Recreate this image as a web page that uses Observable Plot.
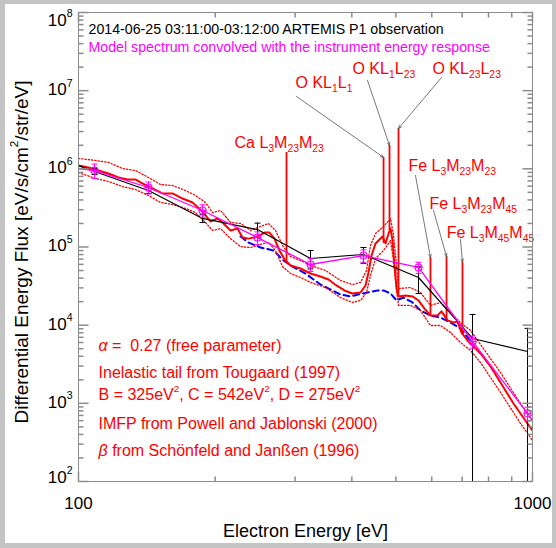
<!DOCTYPE html>
<html>
<head>
<meta charset="utf-8">
<script src="https://cdn.jsdelivr.net/npm/d3@7"></script>
<script src="https://cdn.jsdelivr.net/npm/@observablehq/plot@0.6"></script>
<style>
  html, body { margin: 0; padding: 0; }
  body { width: 556px; height: 548px; background: #c4c4c4; position: relative; overflow: hidden;
         font-family: "Liberation Sans", Arial, sans-serif; }
  #panel { position: absolute; left: 5px; top: 4px; width: 547px; height: 539px; background: #fff; }
  #chart { position: absolute; left: 0; top: 0; }
</style>
</head>
<body>
<div id="panel"></div>
<div id="chart"></div>
<script>
// Model electron spectrum (solid red), eV and eV/s/cm^2/str/eV
const modelE = [100, 105.2, 110.7, 116.4, 122.5, 128.2, 133.5, 136.9, 145.5, 153.1, 161.1, 169.5, 178.3, 188.5,
  195.3, 202.4, 208.6, 216.2, 224.0, 229.8, 236.9, 247.9, 256.8, 263.4, 270.2, 277.1, 284.3, 293.1, 308.3, 324.4,
  341.2, 355.3, 370.0, 385.3, 401.3, 418.0, 428.7, 435.3, 442.0, 451.1, 460.3, 467.4, 474.6, 481.9, 486.8, 491.7,
  496.7, 501.7, 506.8, 525.1, 544.1, 560.9, 578.2, 596.0, 617.6, 630.3, 649.7, 669.8, 683.5, 697.5, 719.1, 741.4,
  768.2, 808.2, 850.2, 908.2, 974.8, 1015];
const modelFlux = [1.10e6, 1.04e6, 9.52e5, 8.72e5, 7.75e5, 7.31e5, 7.31e5, 6.69e5, 5.60e5, 4.84e5, 4.84e5, 4.17e5,
  3.71e5, 2.76e5, 2.12e5, 2.32e5, 2.00e5, 1.63e5, 1.72e5, 1.32e5, 1.28e5, 1.36e5, 1.53e5, 1.53e5, 1.28e5, 9.02e4,
  6.92e4, 5.80e4, 5.31e4, 4.58e4, 4.19e4, 3.84e4, 3.22e4, 2.78e4, 2.54e4, 2.62e4, 3.22e4, 4.72e4, 7.78e4, 1.11e5,
  1.25e5, 1.36e5, 1.11e5, 1.49e5, 1.72e5, 1.21e5, 5.80e4, 3.03e4, 2.33e4, 2.40e4, 2.33e4, 2.07e4, 1.63e4, 1.33e4,
  1.33e4, 1.50e4, 1.15e4, 1.08e4, 1.11e4, 8.06e3, 6.37e3, 5.33e3, 4.34e3, 2.96e3, 1.85e3, 995, 552, 399];

// Uncertainty envelope of the model (dotted red)
const bandE = [100, 109.0, 116.4, 125.0, 133.5, 142.6, 151.6, 161.1, 172.1, 181.0, 190.4, 197.3, 205.5, 216.2,
  227.5, 239.3, 251.7, 262.1, 271.6, 281.4, 293.1, 308.3, 324.4, 350.0, 377.6, 401.3, 418.0, 430.9, 439.7, 451.1,
  469.8, 486.8, 494.2, 501.7, 506.8, 538.6, 566.6, 596.0, 627.1, 659.7, 694.0, 730.2, 768.2, 850.2, 941.0, 1015];
const bandUpper = [1.36e6, 1.28e6, 1.21e6, 1.01e6, 9.52e5, 7.75e5, 6.30e5, 6.12e5, 5.28e5, 4.56e5, 3.71e5, 2.76e5,
  2.93e5, 2.06e5, 2.00e5, 1.63e5, 1.83e5, 2.00e5, 1.63e5, 1.05e5, 7.56e4, 6.72e4, 5.80e4, 5.01e4, 3.73e4, 3.31e4,
  3.52e4, 5.01e4, 1.05e5, 1.49e5, 1.83e5, 2.32e5, 1.40e5, 5.80e4, 2.94e4, 3.03e4, 2.62e4, 1.79e4, 1.95e4, 1.45e4,
  1.08e4, 8.55e3, 5.66e3, 2.48e3, 995, 521];
const bandLower = [8.98e5, 7.52e5, 6.89e5, 5.94e5, 5.44e5, 4.56e5, 3.71e5, 3.50e5, 3.11e5, 2.76e5, 2.06e5, 1.63e5,
  1.72e5, 1.28e5, 1.01e5, 9.85e4, 1.08e5, 1.14e5, 9.02e4, 5.63e4, 4.58e4, 4.07e4, 3.52e4, 3.03e4, 2.26e4, 1.95e4,
  2.07e4, 2.62e4, 4.32e4, 7.13e4, 9.02e4, 1.21e5, 6.72e4, 2.78e4, 1.79e4, 1.79e4, 1.54e4, 9.90e3, 9.90e3, 8.06e3,
  6.00e3, 4.74e3, 3.33e3, 1.38e3, 552, 297];

// Inelastic background only (blue dashed)
const bgE = [227.5, 236.9, 251.7, 268.9, 282.9, 296.0, 316.2, 341.2, 377.6, 397.2, 422.2, 455.7, 469.8, 486.8,
  501.7, 519.8, 544.1, 566.6, 596.0, 627.1, 659.7, 694.0, 719.1, 741.4];
const bgFlux = [1.36e5, 1.14e5, 9.85e4, 9.02e4, 6.72e4, 5.63e4, 4.58e4, 3.31e4, 2.47e4, 2.33e4, 2.54e4, 2.78e4,
  2.78e4, 2.54e4, 2.07e4, 2.26e4, 1.95e4, 1.54e4, 1.33e4, 1.25e4, 1.08e4, 9.07e3, 6.96e3, 5.50e3];

// ESA energy channels: observation (black) and convolved model (magenta)
const channelE = [108.5, 142.6, 187.6, 247.9, 324.4, 424.3, 561.0, 737.7, 975.0];
const obsFlux = [9.25e5, 5.28e5, 2.32e5, 1.67e5, 7.13e4, 8.02e4, 4.07e4, 6.76e3, 4.60e3];
const obsErr = [8.0e4, 4.4e4, 2.6e4, 3.5e4, 1.89e4, 1.83e4, 1.53e4, 6.94e3, 4.5e3];
const obsLineE = [100, 108.5, 142.6, 187.6, 247.9, 324.4, 424.3, 561.0, 737.7, 975.0];
const obsLineFlux = [1.10e6, 9.25e5, 5.28e5, 2.32e5, 1.67e5, 7.13e4, 8.02e4, 4.07e4, 6.76e3, 4.60e3];
const convFlux = [9.50e5, 5.77e5, 2.93e5, 1.32e5, 5.97e4, 7.78e4, 5.47e4, 6.18e3, 742];
const convErr = [2.0e5, 1.0e5, 5.3e4, 2.4e4, 1.1e4, 1.4e4, 9.0e3, 1.1e3, 150];
const convLineE = [100, 108.5, 142.6, 187.6, 247.9, 324.4, 424.3, 561.0, 737.7, 975.0, 1000];
const convLineFlux = [1.01e6, 9.50e5, 5.77e5, 2.93e5, 1.32e5, 5.97e4, 7.78e4, 5.47e4, 6.18e3, 742, 604];

// Auger lines
const augerNames = ["Ca L_{3}M_{23}M_{23}", "O KL_{1}L_{1}", "O KL_{1}L_{23}", "O KL_{23}L_{23}",
  "Fe L_{3}M_{23}M_{23}", "Fe L_{3}M_{23}M_{45}", "Fe L_{3}M_{45}M_{45}"];
const augerE = [287.2, 469.8, 484.2, 506.8, 596.0, 646.6, 701.1];
const augerPeak = [1.62e6, 1.40e6, 1.99e6, 3.28e6, 7.34e4, 7.56e4, 6.43e4];
const augerBase = [6.33e4, 1.11e5, 1.63e5, 2.33e4, 1.33e4, 1.15e4, 7.39e3];

// Fit notes
const notes = ["~{α} = \u00a00.27 (free parameter)", "Inelastic tail from Tougaard (1997)",
  "B = 325eV^{2}, C = 542eV^{2}, D = 275eV^{2}", "IMFP from Powell and Jablonski (2000)",
  "~{β} from Schönfeld and Janßen (1996)"];

// Annotation placement (energy, flux) for the line labels and arrow tails
const labelPos = [[220.6, 2.17e6], [300.6, 1.27e7], [401.3, 1.92e7], [602, 1.92e7], [533, 1.10e6], [593, 3.60e5], [647, 1.53e5]];
const arrowTail = [null, [302.1, 8.42e6], [433.1, 1.349e7], [630.3, 1.474e7], [552.4, 8.22e5], [605.3, 2.93e5], [694.0, 1.25e5]];
const notePos = [5.50e3, 2.48e3, 1.30e3, 552, 249];

const red = "#ff0000", magenta = "#ff00ff", blue = "#0000ff", axisGray = "#8c8c8c", arrowGray = "#555";

const model = modelE.map((e, i) => ({e, f: modelFlux[i]}));
const band = bandE.map((e, i) => ({e, hi: bandUpper[i], lo: bandLower[i]}));
const bg = bgE.map((e, i) => ({e, f: bgFlux[i]}));
const obs = channelE.map((e, i) => ({e, f: obsFlux[i], err: obsErr[i]}));
const obsLine = obsLineE.map((e, i) => ({e, f: obsLineFlux[i]}));
const conv = channelE.map((e, i) => ({e, f: convFlux[i], err: convErr[i]}));
const convLine = convLineE.map((e, i) => ({e, f: convLineFlux[i]}));
const auger = augerE.map((e, i) => ({e, peak: augerPeak[i], base: augerBase[i], name: augerNames[i],
  lx: labelPos[i][0], ly: labelPos[i][1], tail: arrowTail[i]}));
const arrows = auger.filter(d => d.tail);

const yMin = 1e2;
const yMajor = [1e2, 1e3, 1e4, 1e5, 1e6, 1e7, 1e8];
const yMinor = d3.range(2, 8).flatMap(k => d3.range(2, 10).map(m => m * 10 ** k));
const xMajor = [100, 1000];
const xMinor = d3.range(2, 10).map(m => m * 100);

// Short horizontal stroke (error-bar caps, marker bar); half-width = r
const hBar = {draw(ctx, size) { const w = Math.sqrt(size / Math.PI); ctx.moveTo(-w, 0); ctx.lineTo(w, 0); }};
// Inward tick stroke of a given vector
const tick = (dx, dy) => ({draw(ctx) { ctx.moveTo(0, 0); ctx.lineTo(dx, dy); }});
const expLabel = d => `10^{${Math.round(Math.log10(d))}}`;

const plot = Plot.plot({
  width: 556, height: 548,
  marginLeft: 78, marginRight: 24, marginTop: 12, marginBottom: 67,
  style: {background: "transparent", fontFamily: "Liberation Sans, Arial, sans-serif", overflow: "visible"},
  x: {type: "log", domain: [100, 1000], axis: null},
  y: {type: "log", domain: [1e2, 1e8], axis: null},
  marks: [
    Plot.line(bg, {x: "e", y: "f", stroke: blue, strokeWidth: 2, strokeDasharray: "6,4", clip: true}),
    Plot.line(band, {x: "e", y: "hi", stroke: red, strokeWidth: 1.3, strokeDasharray: "1.3,2", clip: true}),
    Plot.line(band, {x: "e", y: "lo", stroke: red, strokeWidth: 1.3, strokeDasharray: "1.3,2", clip: true}),
    Plot.line(model, {x: "e", y: "f", stroke: red, strokeWidth: 2, clip: true}),
    Plot.ruleX(auger, {x: "e", y1: "base", y2: "peak", stroke: red, strokeWidth: 1.8}),

    // observation
    Plot.line(obsLine, {x: "e", y: "f", stroke: "black", strokeWidth: 1.2, clip: true}),
    Plot.ruleX(obs, {x: "e", y1: d => Math.max(d.f - d.err, yMin / 10), y2: d => d.f + d.err, stroke: "black", strokeWidth: 1, clip: true}),
    Plot.dot(obs, {x: "e", y: d => d.f + d.err, symbol: hBar, r: 3, fill: "none", stroke: "black", strokeWidth: 1}),
    Plot.dot(obs.filter(d => d.f - d.err >= yMin * 0.99), {x: "e", y: d => Math.max(d.f - d.err, yMin), symbol: hBar, r: 3, fill: "none", stroke: "black", strokeWidth: 1}),

    // convolved model
    Plot.line(convLine, {x: "e", y: "f", stroke: magenta, strokeWidth: 1.3, clip: true}),
    Plot.ruleX(conv, {x: "e", y1: d => d.f - d.err, y2: d => d.f + d.err, stroke: magenta, strokeWidth: 1}),
    Plot.dot(conv, {x: "e", y: d => d.f + d.err, symbol: hBar, r: 3, fill: "none", stroke: magenta, strokeWidth: 1}),
    Plot.dot(conv, {x: "e", y: d => d.f - d.err, symbol: hBar, r: 3, fill: "none", stroke: magenta, strokeWidth: 1}),
    Plot.dot(conv, {x: "e", y: "f", r: 3.5, fill: "none", stroke: magenta, strokeWidth: 1.2}),
    Plot.dot(conv, {x: "e", y: "f", symbol: hBar, r: 3.5, fill: "none", stroke: magenta, strokeWidth: 1.2}),

    // line identifications
    Plot.arrow(arrows, {x1: d => d.tail[0], y1: d => d.tail[1], x2: "e", y2: "peak", stroke: arrowGray, strokeWidth: 0.8, headLength: 6, headAngle: 45}),
    Plot.text(auger, {x: "lx", y: "ly", text: "name", textAnchor: "start", fill: red, fontSize: 16}),

    // header and notes
    Plot.text(["2014-06-25 03:11:00-03:12:00 ARTEMIS P1 observation"], {text: d => d, frameAnchor: "top-left", dx: 10, dy: 11, textAnchor: "start", fill: "black", fontSize: 14.2}),
    Plot.text(["Model spectrum convolved with the instrument energy response"], {text: d => d, frameAnchor: "top-left", dx: 10, dy: 29, textAnchor: "start", fill: magenta, fontSize: 14.2}),
    Plot.text(notes, {x: () => 110.7, y: (d, i) => notePos[i], text: d => d, textAnchor: "start", fill: red, fontSize: 16}),

    // frame and inward ticks
    Plot.frame({stroke: axisGray}),
    Plot.dot(yMajor, {y: d => d, frameAnchor: "left", symbol: tick(10, 0), fill: "none", stroke: axisGray}),
    Plot.dot(yMinor, {y: d => d, frameAnchor: "left", symbol: tick(5, 0), fill: "none", stroke: axisGray}),
    Plot.dot(yMajor, {y: d => d, frameAnchor: "right", symbol: tick(-10, 0), fill: "none", stroke: axisGray}),
    Plot.dot(yMinor, {y: d => d, frameAnchor: "right", symbol: tick(-5, 0), fill: "none", stroke: axisGray}),
    Plot.dot(xMajor, {x: d => d, frameAnchor: "bottom", symbol: tick(0, -10), fill: "none", stroke: axisGray}),
    Plot.dot(xMinor, {x: d => d, frameAnchor: "bottom", symbol: tick(0, -5), fill: "none", stroke: axisGray}),
    Plot.dot(xMajor, {x: d => d, frameAnchor: "top", symbol: tick(0, 10), fill: "none", stroke: axisGray}),
    Plot.dot(xMinor, {x: d => d, frameAnchor: "top", symbol: tick(0, 5), fill: "none", stroke: axisGray}),

    // tick labels
    Plot.text(yMajor.slice(1, -1), {y: d => d, frameAnchor: "left", dx: -6, dy: -1, textAnchor: "end", text: expLabel, fill: "black", fontSize: 17}),
    Plot.text([1e8], {y: d => d, frameAnchor: "left", dx: -6, dy: 8, textAnchor: "end", text: expLabel, fill: "black", fontSize: 17}),
    Plot.text([1e2], {y: d => d, frameAnchor: "left", dx: -6, dy: -4, textAnchor: "end", text: expLabel, fill: "black", fontSize: 17}),
    Plot.text(xMajor, {x: d => d, frameAnchor: "bottom", dy: 27, text: d => String(d), textAnchor: "middle", fill: "black", fontSize: 17}),

    // axis titles
    Plot.text(["Electron Energy [eV]"], {text: d => d, frameAnchor: "bottom", dy: 55, textAnchor: "middle", fill: "black", fontSize: 18}),
    Plot.text(["Differential Energy Flux [eV/s/cm^{2}/str/eV]"], {text: d => d, frameAnchor: "left", dx: -57, dy: 5, rotate: -90, textAnchor: "middle", fill: "black", fontSize: 19})
  ]
});

document.getElementById("chart").appendChild(plot);

// Turn ^{..} / _{..} / ~{..} markup into superscript, subscript and italic tspans
function setRichText(svg) {
  svg.querySelectorAll("text").forEach(el => {
    const src = el.textContent;
    if (!/[_^~]\{/.test(src)) return;
    const fs = parseFloat(getComputedStyle(el).fontSize) || 16;
    const parts = [];
    const re = /([_^~])\{([^}]*)\}/g;
    let last = 0, m;
    while ((m = re.exec(src))) {
      if (m.index > last) parts.push(["", src.slice(last, m.index)]);
      parts.push([m[1], m[2]]);
      last = re.lastIndex;
    }
    if (last < src.length) parts.push(["", src.slice(last)]);
    while (el.firstChild) el.removeChild(el.firstChild);
    let off = 0;
    for (const [kind, str] of parts) {
      const t = document.createElementNS("http://www.w3.org/2000/svg", "tspan");
      const target = kind === "^" ? -0.5 * fs : kind === "_" ? 0.28 * fs : 0;
      if (target !== off) t.setAttribute("dy", target - off);
      off = target;
      if (kind === "^") t.setAttribute("font-size", 0.62 * fs);
      if (kind === "_") t.setAttribute("font-size", 0.65 * fs);
      if (kind === "~") t.setAttribute("font-style", "italic");
      t.textContent = str;
      el.appendChild(t);
    }
  });
}
setRichText(plot);
</script>
</body>
</html>
